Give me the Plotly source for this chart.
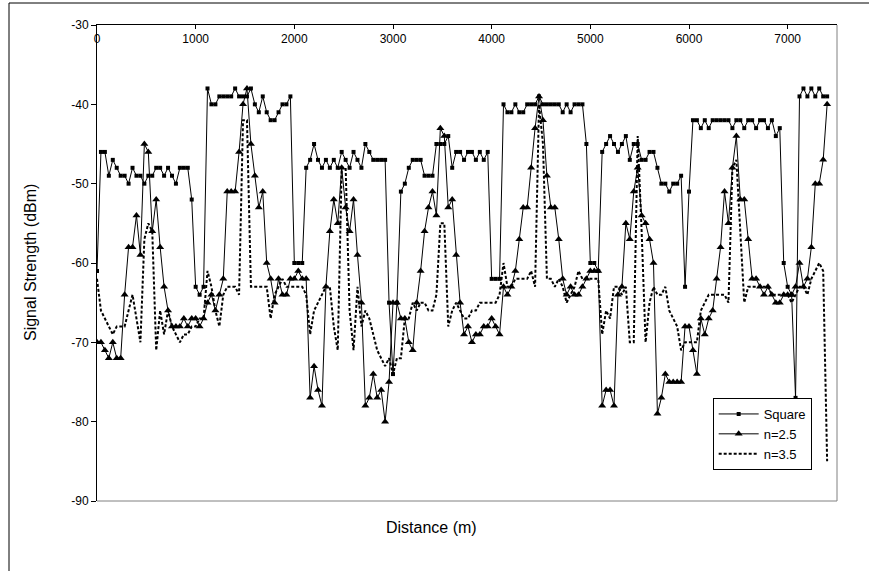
import plotly.graph_objects as go

# Received signal strength sampled every 40 m along the route (dBm)
step_m = 40

square = [
    -61, -46, -46, -49, -47, -48, -49, -49, -50, -48,   # 0 m
    -49, -49, -50, -49, -49, -48, -48, -49, -48, -49,   # 400 m
    -50, -48, -48, -48, -52, -63, -64, -63, -38, -40,   # 800 m
    -40, -39, -39, -39, -39, -38, -39, -39, -39, -38,   # 1200 m
    -40, -41, -39, -41, -42, -42, -41, -40, -40, -39,   # 1600 m
    -60, -60, -60, -48, -47, -45, -47, -48, -47, -48,   # 2000 m
    -47, -48, -46, -47, -48, -46, -47, -48, -45, -46,   # 2400 m
    -47, -47, -47, -47, -65, -74, -65, -51, -50, -48,   # 2800 m
    -47, -47, -47, -49, -49, -49, -45, -45, -45, -44,   # 3200 m
    -48, -46, -46, -47, -46, -46, -47, -46, -47, -46,   # 3600 m
    -62, -62, -62, -40, -41, -41, -40, -41, -41, -40,   # 4000 m
    -40, -40, -39, -40, -40, -40, -40, -40, -41, -40,   # 4400 m
    -41, -40, -40, -40, -45, -60, -60, -61, -46, -45,   # 4800 m
    -44, -45, -46, -45, -44, -47, -45, -45, -47, -47,   # 5200 m
    -46, -46, -48, -50, -50, -51, -50, -50, -49, -63,   # 5600 m
    -51, -42, -42, -43, -42, -43, -42, -42, -42, -42,   # 6000 m
    -42, -43, -42, -42, -43, -42, -42, -43, -42, -42,   # 6400 m
    -43, -42, -44, -43, -60, -63, -64, -77, -39, -38,   # 6800 m
    -39, -38, -39, -38, -39, -39,                       # 7200 m
]

n25 = [
    -70, -70, -71, -72, -70, -72, -72, -64, -58, -58,
    -54, -59, -45, -46, -56, -52, -58, -63, -66, -68,
    -68, -68, -67, -68, -67, -67, -68, -67, -65, -64,
    -66, -64, -62, -51, -51, -51, -46, -40, -38, -45,
    -49, -53, -51, -60, -62, -65, -62, -64, -64, -62,
    -62, -61, -62, -62, -77, -73, -76, -78, -63, -56,
    -52, -55, -48, -53, -56, -52, -59, -65, -78, -77,
    -74, -77, -76, -80, -75, -65, -65, -67, -67, -70,
    -71, -65, -61, -56, -53, -51, -54, -43, -44, -53,
    -52, -59, -65, -69, -68, -70, -69, -69, -68, -68,
    -67, -68, -69, -63, -64, -63, -61, -57, -53, -53,
    -48, -43, -39, -42, -49, -53, -53, -57, -62, -64,
    -63, -64, -64, -63, -62, -61, -61, -61, -78, -76,
    -76, -78, -64, -63, -55, -57, -51, -48, -54, -55,
    -57, -60, -79, -77, -74, -75, -75, -75, -75, -68,
    -68, -71, -74, -67, -69, -67, -66, -62, -58, -51,
    -55, -48, -44, -52, -52, -57, -62, -62, -63, -64,
    -63, -64, -65, -65, -64, -64, -64, -63, -60, -63,
    -62, -58, -50, -50, -47, -40,
]

n35 = [
    -62, -66, -67, -68, -69, -68, -68, -68, -66, -64,
    -67, -70, -57, -55, -56, -71, -66, -69, -66, -68,
    -69, -70, -69, -69, -68, -68, -67, -67, -61, -63,
    -66, -68, -64, -63, -63, -63, -64, -42, -42, -63,
    -63, -63, -63, -63, -67, -64, -63, -62, -63, -63,
    -63, -63, -63, -64, -69, -66, -65, -64, -63, -63,
    -68, -71, -48, -48, -66, -71, -63, -68, -66, -67,
    -69, -71, -72, -73, -72, -74, -72, -72, -67, -67,
    -65, -66, -65, -65, -66, -66, -64, -55, -55, -68,
    -66, -65, -66, -67, -67, -66, -66, -65, -65, -65,
    -65, -65, -64, -60, -63, -63, -62, -62, -62, -62,
    -61, -63, -40, -45, -62, -62, -63, -62, -63, -65,
    -64, -63, -61, -62, -62, -62, -62, -62, -69, -66,
    -67, -63, -63, -64, -63, -70, -70, -44, -56, -70,
    -65, -63, -64, -64, -63, -66, -67, -68, -71, -70,
    -70, -70, -70, -66, -65, -64, -64, -64, -64, -64,
    -65, -48, -47, -56, -65, -63, -63, -63, -63, -63,
    -63, -64, -64, -64, -64, -64, -65, -64, -63, -63,
    -64, -62, -61, -60, -61, -85,
]

y_ticks = [-90, -80, -70, -60, -50, -40, -30]
y_tick_labels = ["-90", "-80", "-70", "-60", "-50", "-40", "-30"]
x_ticks = [0, 1000, 2000, 3000, 4000, 5000, 6000, 7000]
x_tick_labels = ["0", "1000", "2000", "3000", "4000", "5000", "6000", "7000"]


def distances(values):
    return [i * step_m for i in range(len(values))]


FONT = "Arial, Liberation Sans, sans-serif"

fig = go.Figure()
fig.add_trace(go.Scatter(
    x=distances(square), y=square, name="Square", mode="lines+markers",
    line=dict(color="black", width=1),
    marker=dict(symbol="square", size=4, color="black"),
))
fig.add_trace(go.Scatter(
    x=distances(n25), y=n25, name="n=2.5", mode="lines+markers",
    line=dict(color="black", width=1),
    marker=dict(symbol="triangle-up", size=7, color="black"),
))
fig.add_trace(go.Scatter(
    x=distances(n35), y=n35, name="n=3.5", mode="lines",
    line=dict(color="black", width=2, dash="3px,2px"),
))

fig.update_layout(
    width=869, height=571,
    margin=dict(l=97, r=32, t=25, b=70),
    paper_bgcolor="white", plot_bgcolor="white",
    font=dict(family=FONT, color="black", size=12),
    showlegend=True,
    legend=dict(
        x=0.832, y=0.2164, xanchor="left", yanchor="top",
        bgcolor="white", bordercolor="black", borderwidth=1,
        font=dict(family=FONT, size=13, color="black"),
        tracegroupgap=0, itemwidth=40,
    ),
    xaxis=dict(
        range=[0, 7500], side="top",
        tickmode="array", tickvals=x_ticks, ticktext=x_tick_labels,
        showline=True, linecolor="black", linewidth=1,
        ticks="inside", ticklen=4, tickcolor="black",
        ticklabelposition="inside", ticklabeloverflow="allow",
        ticklabelstandoff=5,
        showgrid=False, zeroline=False,
        tickfont=dict(family=FONT, size=12, color="black"),
    ),
    yaxis=dict(
        range=[-90, -30],
        tickmode="array", tickvals=y_ticks, ticktext=y_tick_labels,
        showline=True, linecolor="black", linewidth=1,
        ticks="outside", ticklen=5, tickcolor="black",
        showgrid=False, zeroline=False,
        tickfont=dict(family=FONT, size=12, color="black"),
    ),
    shapes=[
        # plot-area frame on the right and bottom
        dict(type="line", xref="paper", yref="paper", x0=1, x1=1, y0=0, y1=1,
             line=dict(color="#808080", width=1)),
        dict(type="line", xref="paper", yref="paper", x0=0, x1=1, y0=0, y1=0,
             line=dict(color="#808080", width=1)),
        # chart-area border
        dict(type="rect", xref="paper", yref="paper",
             x0=-0.1189, x1=1.2, y0=-0.3, y1=1.0462,
             line=dict(color="black", width=1), fillcolor="rgba(0,0,0,0)"),
    ],
    annotations=[
        dict(text="Signal Strength (dBm)", xref="paper", yref="paper",
             x=-0.0905, y=0.5, textangle=-90, showarrow=False,
             xanchor="center", yanchor="middle",
             font=dict(family=FONT, size=16, color="black")),
        dict(text="Distance (m)", xref="paper", yref="paper",
             x=0.4527, y=-0.0567, showarrow=False,
             xanchor="center", yanchor="middle",
             font=dict(family=FONT, size=16, color="black")),
    ],
)

fig.write_html("out.html")
